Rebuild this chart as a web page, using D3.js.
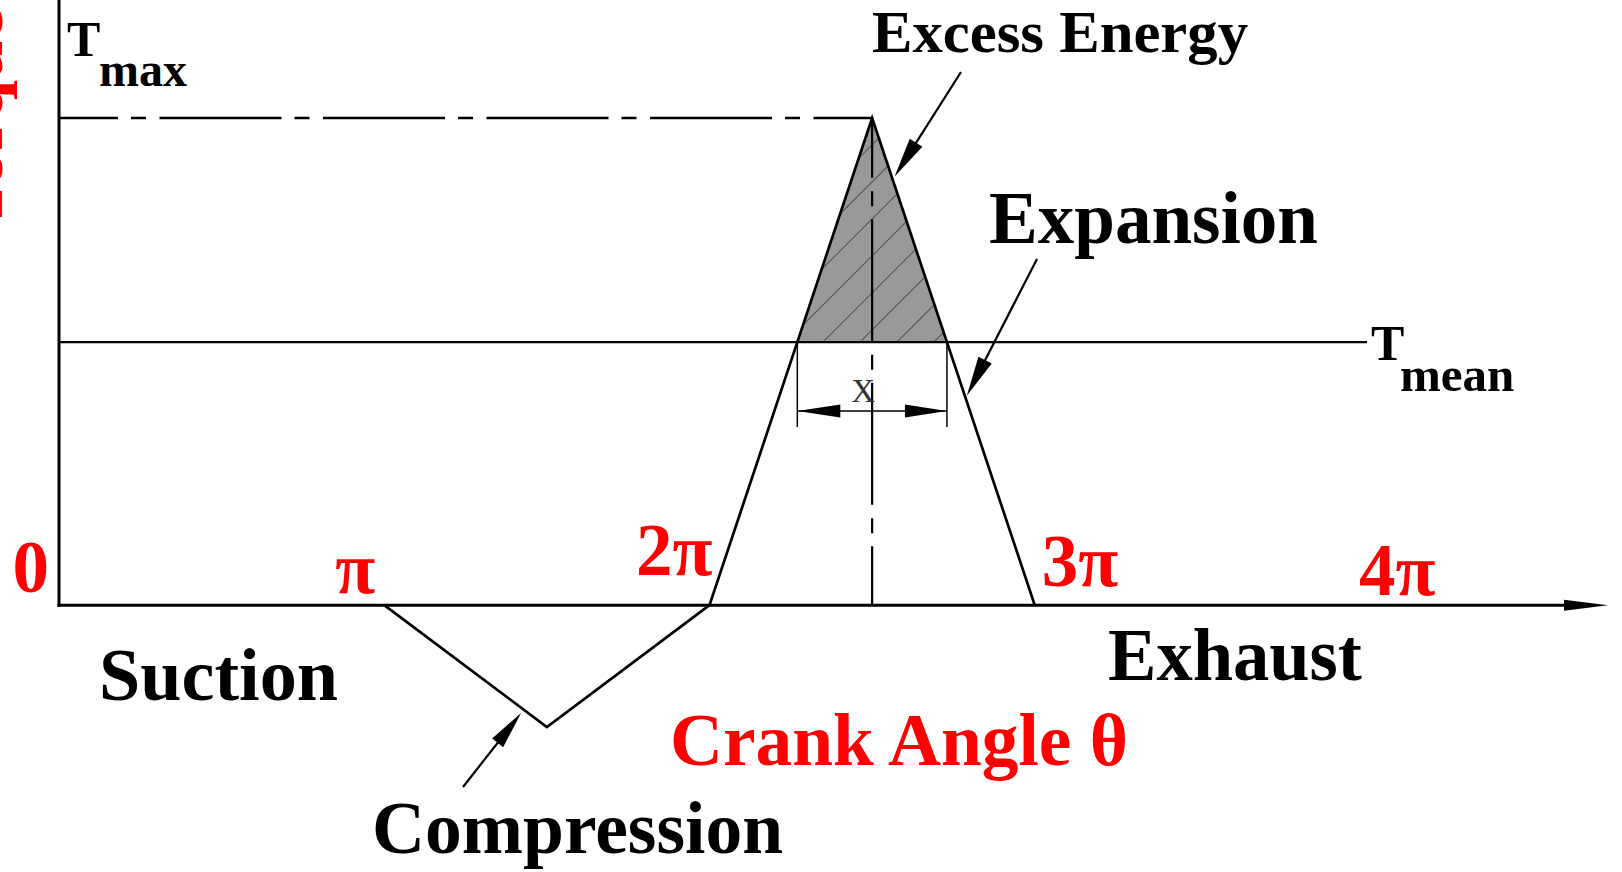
<!DOCTYPE html>
<html><head><meta charset="utf-8">
<script src="https://cdn.jsdelivr.net/npm/d3@7"></script>
<style>html,body{margin:0;padding:0;background:#fff;overflow:hidden}</style>
</head><body><svg id="c" width="1622" height="872"></svg>
<script>
const PI = Math.PI;
// ---- data (crank angle in radians, torque normalised to Tmax = 1) ----
const tickValues = [0, PI, 2 * PI, 3 * PI, 4 * PI];
const tickLabels = ["0", "π", "2π", "3π", "4π"];
const curveTheta = [PI, 1.5 * PI, 2 * PI, 2.5 * PI, 3 * PI];
const curveTorque = [0, -0.25, 0, 1, 0];
const T_MAX = 1;
const T_MEAN = 0.54;
const stageNames = ["Suction", "Compression", "Expansion", "Exhaust"];
const annotationNames = ["Excess Energy", "X"];
const axisTitles = ["Crank Angle θ", "Torque"];

// ---- layout ----
const svg = d3.select("#c");
const x = d3.scaleLinear().domain([0, 4 * PI]).range([59, 1360]);
const y = d3.scaleLinear().domain([-0.25, 1]).range([727, 118]);
const FONT = "'Liberation Serif','Times New Roman',serif";
const RED = "#ff0000";

const pts = curveTheta.map((t, i) => [t, curveTorque[i]]);
const peakIdx = d3.maxIndex(curveTorque);
const peakTheta = curveTheta[peakIdx];

function crossings(level) {
  const out = [];
  for (let i = 0; i < pts.length - 1; i++) {
    const [t0, v0] = pts[i], [t1, v1] = pts[i + 1];
    if ((v0 - level) * (v1 - level) < 0) {
      out.push(t0 + (level - v0) / (v1 - v0) * (t1 - t0));
    }
  }
  return out;
}
const [thL, thR] = crossings(T_MEAN);

function onSegment(i, torque) {
  const [t0, v0] = pts[i], [t1, v1] = pts[i + 1];
  const f = (torque - v0) / (v1 - v0);
  return [x(t0 + f * (t1 - t0)), y(torque)];
}

const defs = svg.append("defs");
const pat = defs.append("pattern").attr("id", "hatch")
  .attr("patternUnits", "userSpaceOnUse").attr("width", 37).attr("height", 37)
  .attr("patternTransform", "translate(18,0)");
pat.append("rect").attr("width", 37).attr("height", 37).attr("fill", "#999");
pat.append("path").attr("d", "M-5,42 L42,-5 M-5,5 L5,-5 M32,42 L42,32")
  .attr("stroke", "#555").attr("stroke-width", 1.2);

// shaded excess energy region
const shade = [[thL, T_MEAN], [peakTheta, T_MAX], [thR, T_MEAN]];
svg.append("path")
  .attr("d", d3.line().x(d => x(d[0])).y(d => y(d[1]))(shade) + "Z")
  .attr("fill", "url(#hatch)");

// Tmean line
svg.append("line")
  .attr("x1", x(0)).attr("x2", 1367).attr("y1", y(T_MEAN)).attr("y2", y(T_MEAN))
  .attr("stroke", "#000").attr("stroke-width", 2.2);

// Tmax dash-dot line
svg.append("line")
  .attr("x1", x(0)).attr("x2", x(peakTheta)).attr("y1", y(T_MAX)).attr("y2", y(T_MAX))
  .attr("stroke", "#000").attr("stroke-width", 2.4)
  .attr("stroke-dasharray", "122 13 15 13.5").attr("stroke-dashoffset", 63);

// vertical centre line through the peak
svg.append("line")
  .attr("x1", x(peakTheta)).attr("x2", x(peakTheta)).attr("y1", y(0)).attr("y2", y(T_MAX))
  .attr("stroke", "#000").attr("stroke-width", 2.2)
  .attr("stroke-dasharray", "122 13 15 13.5").attr("stroke-dashoffset", 63);

// torque curve
svg.append("path")
  .attr("d", d3.line().x(d => x(d[0])).y(d => y(d[1]))(pts))
  .attr("fill", "none").attr("stroke", "#000").attr("stroke-width", 2.7)
  .attr("stroke-linejoin", "miter");

function arrow(x0, y0, x1, y1, L, hw, sw) {
  const dx = x1 - x0, dy = y1 - y0, len = Math.hypot(dx, dy);
  const ux = dx / len, uy = dy / len, nx = -uy, ny = ux;
  const bx = x1 - ux * L, by = y1 - uy * L;
  svg.append("line").attr("x1", x0).attr("y1", y0)
    .attr("x2", x1 - ux * L * 0.5).attr("y2", y1 - uy * L * 0.5)
    .attr("stroke", "#000").attr("stroke-width", sw);
  svg.append("path")
    .attr("d", `M${x1},${y1}L${bx + nx * hw},${by + ny * hw}L${bx - nx * hw},${by - ny * hw}Z`)
    .attr("fill", "#000");
}

// axes
svg.append("line").attr("x1", x(0)).attr("x2", x(0)).attr("y1", 0).attr("y2", y(0) + 1.5)
  .attr("stroke", "#000").attr("stroke-width", 3);
arrow(x(0) - 1.5, y(0), 1608, y(0), 44, 5.5, 3);

// dimension "x"
const dimY = 411, extBottom = 427;
[thL, thR].forEach(t => {
  svg.append("line").attr("x1", x(t)).attr("x2", x(t))
    .attr("y1", y(T_MEAN)).attr("y2", extBottom)
    .attr("stroke", "#000").attr("stroke-width", 1.5);
});
svg.append("line").attr("x1", x(thL)).attr("x2", x(thR)).attr("y1", dimY).attr("y2", dimY)
  .attr("stroke", "#000").attr("stroke-width", 1.4);
arrow(x(peakTheta), dimY, x(thL), dimY, 43, 6.5, 0.1);
arrow(x(peakTheta), dimY, x(thR), dimY, 42, 6.5, 0.1);
svg.append("text").attr("x", (x(thL) + x(thR)) / 2 - 9).attr("y", 402)
  .attr("text-anchor", "middle").attr("font-family", FONT).attr("font-size", 33)
  .attr("fill", "#333").text(annotationNames[1]);

// leader arrows
const eTip = onSegment(3, 0.88);
arrow(961, 72, eTip[0] + 3, eTip[1], 40, 7.5, 2.2);
const xTip = onSegment(3, 0.43);
arrow(1037, 259, xTip[0] + 2, xTip[1], 40, 7.5, 2.2);
const cTip = onSegment(0, -0.86 * 0.25);
arrow(463, 787, cTip[0] - 3, cTip[1] + 3, 38, 7, 2.2);

// red tick labels
const tickLayout = [
  { dx: -10, y: 592, anchor: "end" },
  { dx: -29, y: 593, anchor: "middle" },
  { dx: 3, y: 575, anchor: "end" },
  { dx: 7, y: 586, anchor: "start" },
  { dx: -1, y: 595, anchor: "start" }
];
tickValues.forEach((v, i) => {
  svg.append("text").attr("x", x(v) + tickLayout[i].dx).attr("y", tickLayout[i].y)
    .attr("text-anchor", tickLayout[i].anchor)
    .attr("font-family", FONT).attr("font-weight", "bold").attr("font-size", 73)
    .attr("fill", RED).text(tickLabels[i]);
});

function label(txt, px, py, size, color, len) {
  const t = svg.append("text").attr("x", px).attr("y", py)
    .attr("font-family", FONT).attr("font-weight", "bold").attr("font-size", size)
    .attr("fill", color || "#000").text(txt);
  if (len) t.attr("textLength", len).attr("lengthAdjust", "spacingAndGlyphs");
  return t;
}
// stage labels
label(stageNames[0], 99, 700, 74, null, 239);
label(stageNames[1], 372, 853, 74, null, 411);
label(stageNames[2], 989, 243, 74, null, 329);
label(stageNames[3], 1108, 680, 74, null, 254);
label(annotationNames[0], 872, 52, 60, null, 376);
label(axisTitles[0], 670, 765, 74, RED, 458);

// Tmax / Tmean labels
label("T", 67, 56, 50);
label("max", 99, 86, 48);
label("T", 1371, 360, 50);
label("mean", 1400, 391, 49);

// y-axis title (mostly cut off by the left edge, as in the original)
svg.append("text").attr("transform", "translate(2,118) rotate(-90)")
  .attr("text-anchor", "middle")
  .attr("font-family", FONT).attr("font-weight", "bold").attr("font-size", 72)
  .attr("fill", RED).text(axisTitles[1]);
</script>
</body></html>
